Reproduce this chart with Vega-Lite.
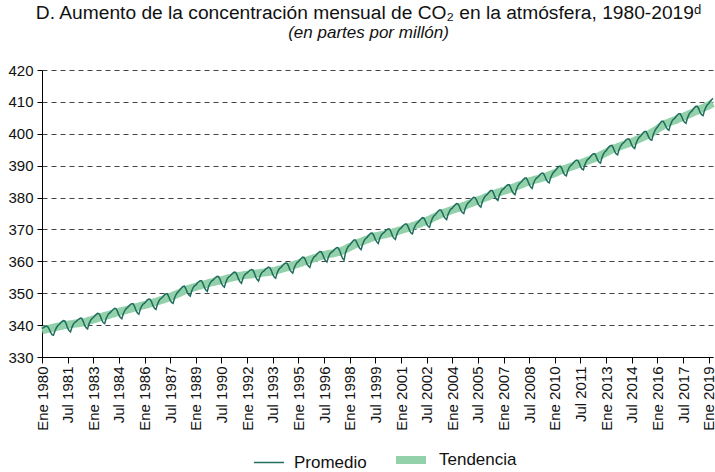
{
"$schema": "https://vega.github.io/schema/vega-lite/v6.json",
"width": 671,
"height": 287,
"autosize": {"type": "none"},
"padding": {"left": 42, "top": 70, "right": 2, "bottom": 115},
"background": "white",
"config": {
  "font": "Liberation Sans",
  "view": {"stroke": null}
},
"title": {"text": "D. Aumento de la concentración mensual de CO₂ en la atmósfera, 1980-2019ᵈ", "subtitle": "(en partes por millón)", "fontSize": 19.2, "fontWeight": "normal", "subtitleFontSize": 17, "subtitleFontStyle": "italic", "color": "#111", "subtitleColor": "#111", "anchor": "middle", "frame": "bounds", "offset": 22, "subtitlePadding": 2},
"data": {"format": {"parse": {"d": "utc:'%Y-%m'"}}, "values": [
{"d":"1980-01","p":338.9,"t":338.4},{"d":"1980-02","p":339.2,"t":338.5},{"d":"1980-03","p":339.5,"t":338.6},{"d":"1980-04","p":339.7,"t":338.7},{"d":"1980-05","p":339.5,"t":338.8},{"d":"1980-06","p":338.8,"t":338.9},{"d":"1980-07","p":337.8,"t":339.0},{"d":"1980-08","p":337.0,"t":339.1},{"d":"1980-09","p":336.8,"t":339.2},{"d":"1980-10","p":338.1,"t":339.3},{"d":"1980-11","p":339.1,"t":339.4},{"d":"1980-12","p":339.8,"t":339.5},
{"d":"1981-01","p":340.2,"t":339.6},{"d":"1981-02","p":340.7,"t":339.7},{"d":"1981-03","p":341.1,"t":339.8},{"d":"1981-04","p":341.4,"t":339.9},{"d":"1981-05","p":341.3,"t":340.0},{"d":"1981-06","p":340.4,"t":340.1},{"d":"1981-07","p":339.1,"t":340.1},{"d":"1981-08","p":338.3,"t":340.2},{"d":"1981-09","p":337.9,"t":340.3},{"d":"1981-10","p":339.3,"t":340.3},{"d":"1981-11","p":340.3,"t":340.4},{"d":"1981-12","p":340.9,"t":340.5},
{"d":"1982-01","p":341.1,"t":340.5},{"d":"1982-02","p":341.6,"t":340.6},{"d":"1982-03","p":341.9,"t":340.6},{"d":"1982-04","p":342.2,"t":340.7},{"d":"1982-05","p":342.1,"t":340.8},{"d":"1982-06","p":341.1,"t":340.8},{"d":"1982-07","p":339.9,"t":340.9},{"d":"1982-08","p":339.2,"t":341.1},{"d":"1982-09","p":338.8,"t":341.2},{"d":"1982-10","p":340.4,"t":341.4},{"d":"1982-11","p":341.4,"t":341.5},{"d":"1982-12","p":342.0,"t":341.6},
{"d":"1983-01","p":342.4,"t":341.8},{"d":"1983-02","p":342.9,"t":341.9},{"d":"1983-03","p":343.3,"t":342.0},{"d":"1983-04","p":343.7,"t":342.2},{"d":"1983-05","p":343.6,"t":342.3},{"d":"1983-06","p":342.8,"t":342.5},{"d":"1983-07","p":341.6,"t":342.6},{"d":"1983-08","p":340.8,"t":342.7},{"d":"1983-09","p":340.5,"t":342.9},{"d":"1983-10","p":342.0,"t":343.0},{"d":"1983-11","p":343.0,"t":343.1},{"d":"1983-12","p":343.6,"t":343.2},
{"d":"1984-01","p":344.0,"t":343.4},{"d":"1984-02","p":344.5,"t":343.5},{"d":"1984-03","p":344.9,"t":343.6},{"d":"1984-04","p":345.3,"t":343.8},{"d":"1984-05","p":345.2,"t":343.9},{"d":"1984-06","p":344.3,"t":344.0},{"d":"1984-07","p":343.1,"t":344.1},{"d":"1984-08","p":342.4,"t":344.3},{"d":"1984-09","p":342.0,"t":344.4},{"d":"1984-10","p":343.5,"t":344.5},{"d":"1984-11","p":344.5,"t":344.6},{"d":"1984-12","p":345.1,"t":344.7},
{"d":"1985-01","p":345.5,"t":344.9},{"d":"1985-02","p":346.0,"t":345.0},{"d":"1985-03","p":346.4,"t":345.1},{"d":"1985-04","p":346.7,"t":345.2},{"d":"1985-05","p":346.7,"t":345.4},{"d":"1985-06","p":345.8,"t":345.5},{"d":"1985-07","p":344.6,"t":345.6},{"d":"1985-08","p":343.8,"t":345.7},{"d":"1985-09","p":343.4,"t":345.8},{"d":"1985-10","p":345.0,"t":346.0},{"d":"1985-11","p":346.0,"t":346.1},{"d":"1985-12","p":346.6,"t":346.2},
{"d":"1986-01","p":346.9,"t":346.3},{"d":"1986-02","p":347.4,"t":346.4},{"d":"1986-03","p":347.9,"t":346.5},{"d":"1986-04","p":348.2,"t":346.7},{"d":"1986-05","p":348.1,"t":346.8},{"d":"1986-06","p":347.2,"t":346.9},{"d":"1986-07","p":346.0,"t":347.0},{"d":"1986-08","p":345.3,"t":347.2},{"d":"1986-09","p":344.9,"t":347.3},{"d":"1986-10","p":346.5,"t":347.5},{"d":"1986-11","p":347.5,"t":347.6},{"d":"1986-12","p":348.2,"t":347.8},
{"d":"1987-01","p":348.5,"t":347.9},{"d":"1987-02","p":349.0,"t":348.0},{"d":"1987-03","p":349.5,"t":348.2},{"d":"1987-04","p":349.8,"t":348.3},{"d":"1987-05","p":349.8,"t":348.5},{"d":"1987-06","p":348.9,"t":348.6},{"d":"1987-07","p":347.8,"t":348.8},{"d":"1987-08","p":347.1,"t":349.0},{"d":"1987-09","p":346.8,"t":349.2},{"d":"1987-10","p":348.4,"t":349.4},{"d":"1987-11","p":349.5,"t":349.6},{"d":"1987-12","p":350.2,"t":349.8},
{"d":"1988-01","p":350.6,"t":350.0},{"d":"1988-02","p":351.2,"t":350.2},{"d":"1988-03","p":351.7,"t":350.4},{"d":"1988-04","p":352.1,"t":350.6},{"d":"1988-05","p":352.2,"t":350.9},{"d":"1988-06","p":351.4,"t":351.1},{"d":"1988-07","p":350.2,"t":351.2},{"d":"1988-08","p":349.5,"t":351.4},{"d":"1988-09","p":349.1,"t":351.5},{"d":"1988-10","p":350.6,"t":351.6},{"d":"1988-11","p":351.7,"t":351.8},{"d":"1988-12","p":352.3,"t":351.9},
{"d":"1989-01","p":352.6,"t":352.0},{"d":"1989-02","p":353.2,"t":352.2},{"d":"1989-03","p":353.6,"t":352.3},{"d":"1989-04","p":353.9,"t":352.4},{"d":"1989-05","p":353.9,"t":352.6},{"d":"1989-06","p":353.0,"t":352.7},{"d":"1989-07","p":351.8,"t":352.8},{"d":"1989-08","p":351.0,"t":352.9},{"d":"1989-09","p":350.6,"t":353.0},{"d":"1989-10","p":352.2,"t":353.2},{"d":"1989-11","p":353.2,"t":353.3},{"d":"1989-12","p":353.8,"t":353.4},
{"d":"1990-01","p":354.1,"t":353.5},{"d":"1990-02","p":354.6,"t":353.6},{"d":"1990-03","p":355.0,"t":353.7},{"d":"1990-04","p":355.3,"t":353.8},{"d":"1990-05","p":355.2,"t":353.9},{"d":"1990-06","p":354.3,"t":354.0},{"d":"1990-07","p":353.1,"t":354.1},{"d":"1990-08","p":352.3,"t":354.2},{"d":"1990-09","p":351.9,"t":354.3},{"d":"1990-10","p":353.4,"t":354.4},{"d":"1990-11","p":354.5,"t":354.6},{"d":"1990-12","p":355.1,"t":354.7},
{"d":"1991-01","p":355.4,"t":354.8},{"d":"1991-02","p":355.9,"t":354.9},{"d":"1991-03","p":356.3,"t":355.0},{"d":"1991-04","p":356.6,"t":355.1},{"d":"1991-05","p":356.5,"t":355.2},{"d":"1991-06","p":355.6,"t":355.3},{"d":"1991-07","p":354.4,"t":355.4},{"d":"1991-08","p":353.6,"t":355.5},{"d":"1991-09","p":353.1,"t":355.5},{"d":"1991-10","p":354.6,"t":355.6},{"d":"1991-11","p":355.6,"t":355.7},{"d":"1991-12","p":356.1,"t":355.7},
{"d":"1992-01","p":356.4,"t":355.8},{"d":"1992-02","p":356.8,"t":355.8},{"d":"1992-03","p":357.2,"t":355.9},{"d":"1992-04","p":357.4,"t":355.9},{"d":"1992-05","p":357.3,"t":356.0},{"d":"1992-06","p":356.4,"t":356.1},{"d":"1992-07","p":355.1,"t":356.1},{"d":"1992-08","p":354.3,"t":356.2},{"d":"1992-09","p":353.8,"t":356.2},{"d":"1992-10","p":355.3,"t":356.3},{"d":"1992-11","p":356.3,"t":356.4},{"d":"1992-12","p":356.8,"t":356.4},
{"d":"1993-01","p":357.1,"t":356.5},{"d":"1993-02","p":357.6,"t":356.6},{"d":"1993-03","p":357.9,"t":356.6},{"d":"1993-04","p":358.2,"t":356.7},{"d":"1993-05","p":358.0,"t":356.7},{"d":"1993-06","p":357.1,"t":356.8},{"d":"1993-07","p":355.9,"t":356.9},{"d":"1993-08","p":355.1,"t":357.0},{"d":"1993-09","p":354.7,"t":357.1},{"d":"1993-10","p":356.3,"t":357.3},{"d":"1993-11","p":357.3,"t":357.4},{"d":"1993-12","p":357.9,"t":357.5},
{"d":"1994-01","p":358.2,"t":357.6},{"d":"1994-02","p":358.8,"t":357.8},{"d":"1994-03","p":359.2,"t":357.9},{"d":"1994-04","p":359.5,"t":358.0},{"d":"1994-05","p":359.4,"t":358.1},{"d":"1994-06","p":358.6,"t":358.3},{"d":"1994-07","p":357.4,"t":358.4},{"d":"1994-08","p":356.7,"t":358.6},{"d":"1994-09","p":356.3,"t":358.7},{"d":"1994-10","p":357.9,"t":358.9},{"d":"1994-11","p":358.9,"t":359.0},{"d":"1994-12","p":359.6,"t":359.2},
{"d":"1995-01","p":359.9,"t":359.3},{"d":"1995-02","p":360.5,"t":359.5},{"d":"1995-03","p":360.9,"t":359.6},{"d":"1995-04","p":361.3,"t":359.8},{"d":"1995-05","p":361.2,"t":359.9},{"d":"1995-06","p":360.4,"t":360.1},{"d":"1995-07","p":359.2,"t":360.2},{"d":"1995-08","p":358.5,"t":360.4},{"d":"1995-09","p":358.1,"t":360.5},{"d":"1995-10","p":359.7,"t":360.7},{"d":"1995-11","p":360.7,"t":360.8},{"d":"1995-12","p":361.4,"t":361.0},
{"d":"1996-01","p":361.7,"t":361.1},{"d":"1996-02","p":362.3,"t":361.3},{"d":"1996-03","p":362.7,"t":361.4},{"d":"1996-04","p":363.1,"t":361.6},{"d":"1996-05","p":363.0,"t":361.7},{"d":"1996-06","p":362.2,"t":361.9},{"d":"1996-07","p":361.0,"t":362.0},{"d":"1996-08","p":360.2,"t":362.1},{"d":"1996-09","p":359.8,"t":362.2},{"d":"1996-10","p":361.3,"t":362.3},{"d":"1996-11","p":362.3,"t":362.4},{"d":"1996-12","p":362.8,"t":362.4},
{"d":"1997-01","p":363.1,"t":362.5},{"d":"1997-02","p":363.6,"t":362.6},{"d":"1997-03","p":364.0,"t":362.7},{"d":"1997-04","p":364.3,"t":362.8},{"d":"1997-05","p":364.2,"t":362.9},{"d":"1997-06","p":363.3,"t":363.0},{"d":"1997-07","p":362.0,"t":363.2},{"d":"1997-08","p":360.9,"t":363.4},{"d":"1997-09","p":360.4,"t":363.6},{"d":"1997-10","p":362.6,"t":363.8},{"d":"1997-11","p":363.9,"t":364.0},{"d":"1997-12","p":364.7,"t":364.3},
{"d":"1998-01","p":365.1,"t":364.5},{"d":"1998-02","p":365.7,"t":364.7},{"d":"1998-03","p":366.2,"t":364.9},{"d":"1998-04","p":366.7,"t":365.1},{"d":"1998-05","p":366.7,"t":365.4},{"d":"1998-06","p":365.9,"t":365.6},{"d":"1998-07","p":364.8,"t":365.8},{"d":"1998-08","p":364.1,"t":366.0},{"d":"1998-09","p":363.7,"t":366.1},{"d":"1998-10","p":365.3,"t":366.3},{"d":"1998-11","p":366.4,"t":366.5},{"d":"1998-12","p":367.1,"t":366.7},
{"d":"1999-01","p":367.4,"t":366.8},{"d":"1999-02","p":368.0,"t":367.0},{"d":"1999-03","p":368.5,"t":367.2},{"d":"1999-04","p":368.9,"t":367.4},{"d":"1999-05","p":368.8,"t":367.5},{"d":"1999-06","p":368.0,"t":367.7},{"d":"1999-07","p":366.9,"t":367.9},{"d":"1999-08","p":366.1,"t":367.9},{"d":"1999-09","p":365.6,"t":368.0},{"d":"1999-10","p":367.1,"t":368.1},{"d":"1999-11","p":368.1,"t":368.2},{"d":"1999-12","p":368.7,"t":368.3},
{"d":"2000-01","p":369.0,"t":368.4},{"d":"2000-02","p":369.5,"t":368.5},{"d":"2000-03","p":369.9,"t":368.6},{"d":"2000-04","p":370.2,"t":368.7},{"d":"2000-05","p":370.1,"t":368.8},{"d":"2000-06","p":369.2,"t":368.9},{"d":"2000-07","p":368.0,"t":369.0},{"d":"2000-08","p":367.3,"t":369.2},{"d":"2000-09","p":366.9,"t":369.3},{"d":"2000-10","p":368.4,"t":369.4},{"d":"2000-11","p":369.5,"t":369.6},{"d":"2000-12","p":370.1,"t":369.7},
{"d":"2001-01","p":370.4,"t":369.8},{"d":"2001-02","p":371.0,"t":370.0},{"d":"2001-03","p":371.4,"t":370.1},{"d":"2001-04","p":371.7,"t":370.2},{"d":"2001-05","p":371.7,"t":370.4},{"d":"2001-06","p":370.8,"t":370.5},{"d":"2001-07","p":369.7,"t":370.7},{"d":"2001-08","p":368.9,"t":370.8},{"d":"2001-09","p":368.6,"t":371.0},{"d":"2001-10","p":370.2,"t":371.2},{"d":"2001-11","p":371.2,"t":371.3},{"d":"2001-12","p":371.9,"t":371.5},
{"d":"2002-01","p":372.3,"t":371.7},{"d":"2002-02","p":372.8,"t":371.8},{"d":"2002-03","p":373.3,"t":372.0},{"d":"2002-04","p":373.7,"t":372.2},{"d":"2002-05","p":373.6,"t":372.3},{"d":"2002-06","p":372.8,"t":372.5},{"d":"2002-07","p":371.7,"t":372.7},{"d":"2002-08","p":371.0,"t":372.9},{"d":"2002-09","p":370.7,"t":373.1},{"d":"2002-10","p":372.3,"t":373.3},{"d":"2002-11","p":373.5,"t":373.6},{"d":"2002-12","p":374.2,"t":373.8},
{"d":"2003-01","p":374.6,"t":374.0},{"d":"2003-02","p":375.2,"t":374.2},{"d":"2003-03","p":375.7,"t":374.4},{"d":"2003-04","p":376.1,"t":374.6},{"d":"2003-05","p":376.1,"t":374.8},{"d":"2003-06","p":375.3,"t":375.0},{"d":"2003-07","p":374.2,"t":375.2},{"d":"2003-08","p":373.5,"t":375.4},{"d":"2003-09","p":373.1,"t":375.5},{"d":"2003-10","p":374.7,"t":375.7},{"d":"2003-11","p":375.7,"t":375.8},{"d":"2003-12","p":376.4,"t":376.0},
{"d":"2004-01","p":376.7,"t":376.1},{"d":"2004-02","p":377.3,"t":376.3},{"d":"2004-03","p":377.7,"t":376.4},{"d":"2004-04","p":378.1,"t":376.6},{"d":"2004-05","p":378.0,"t":376.7},{"d":"2004-06","p":377.2,"t":376.9},{"d":"2004-07","p":376.0,"t":377.0},{"d":"2004-08","p":375.3,"t":377.2},{"d":"2004-09","p":375.0,"t":377.4},{"d":"2004-10","p":376.5,"t":377.5},{"d":"2004-11","p":377.6,"t":377.7},{"d":"2004-12","p":378.3,"t":377.9},
{"d":"2005-01","p":378.7,"t":378.1},{"d":"2005-02","p":379.2,"t":378.2},{"d":"2005-03","p":379.7,"t":378.4},{"d":"2005-04","p":380.1,"t":378.6},{"d":"2005-05","p":380.0,"t":378.7},{"d":"2005-06","p":379.2,"t":378.9},{"d":"2005-07","p":378.1,"t":379.1},{"d":"2005-08","p":377.4,"t":379.3},{"d":"2005-09","p":377.0,"t":379.4},{"d":"2005-10","p":378.6,"t":379.6},{"d":"2005-11","p":379.7,"t":379.8},{"d":"2005-12","p":380.4,"t":380.0},
{"d":"2006-01","p":380.8,"t":380.2},{"d":"2006-02","p":381.3,"t":380.3},{"d":"2006-03","p":381.8,"t":380.5},{"d":"2006-04","p":382.2,"t":380.7},{"d":"2006-05","p":382.2,"t":380.9},{"d":"2006-06","p":381.4,"t":381.1},{"d":"2006-07","p":380.2,"t":381.2},{"d":"2006-08","p":379.5,"t":381.4},{"d":"2006-09","p":379.1,"t":381.5},{"d":"2006-10","p":380.7,"t":381.7},{"d":"2006-11","p":381.7,"t":381.8},{"d":"2006-12","p":382.4,"t":382.0},
{"d":"2007-01","p":382.7,"t":382.1},{"d":"2007-02","p":383.2,"t":382.2},{"d":"2007-03","p":383.7,"t":382.4},{"d":"2007-04","p":384.0,"t":382.5},{"d":"2007-05","p":384.0,"t":382.7},{"d":"2007-06","p":383.1,"t":382.8},{"d":"2007-07","p":382.0,"t":383.0},{"d":"2007-08","p":381.3,"t":383.2},{"d":"2007-09","p":380.9,"t":383.3},{"d":"2007-10","p":382.5,"t":383.5},{"d":"2007-11","p":383.6,"t":383.7},{"d":"2007-12","p":384.3,"t":383.9},
{"d":"2008-01","p":384.7,"t":384.0},{"d":"2008-02","p":385.2,"t":384.2},{"d":"2008-03","p":385.7,"t":384.4},{"d":"2008-04","p":386.1,"t":384.6},{"d":"2008-05","p":386.1,"t":384.8},{"d":"2008-06","p":385.2,"t":384.9},{"d":"2008-07","p":384.1,"t":385.1},{"d":"2008-08","p":383.3,"t":385.2},{"d":"2008-09","p":382.9,"t":385.3},{"d":"2008-10","p":384.5,"t":385.5},{"d":"2008-11","p":385.5,"t":385.6},{"d":"2008-12","p":386.1,"t":385.7},
{"d":"2009-01","p":386.4,"t":385.8},{"d":"2009-02","p":386.9,"t":385.9},{"d":"2009-03","p":387.4,"t":386.1},{"d":"2009-04","p":387.7,"t":386.2},{"d":"2009-05","p":387.6,"t":386.3},{"d":"2009-06","p":386.7,"t":386.4},{"d":"2009-07","p":385.6,"t":386.6},{"d":"2009-08","p":384.9,"t":386.8},{"d":"2009-09","p":384.6,"t":387.0},{"d":"2009-10","p":386.2,"t":387.2},{"d":"2009-11","p":387.2,"t":387.3},{"d":"2009-12","p":387.9,"t":387.5},
{"d":"2010-01","p":388.3,"t":387.7},{"d":"2010-02","p":388.9,"t":387.9},{"d":"2010-03","p":389.4,"t":388.1},{"d":"2010-04","p":389.8,"t":388.3},{"d":"2010-05","p":389.8,"t":388.5},{"d":"2010-06","p":389.0,"t":388.7},{"d":"2010-07","p":387.8,"t":388.8},{"d":"2010-08","p":387.1,"t":389.0},{"d":"2010-09","p":386.8,"t":389.1},{"d":"2010-10","p":388.3,"t":389.3},{"d":"2010-11","p":389.4,"t":389.5},{"d":"2010-12","p":390.0,"t":389.6},
{"d":"2011-01","p":390.4,"t":389.8},{"d":"2011-02","p":390.9,"t":389.9},{"d":"2011-03","p":391.4,"t":390.1},{"d":"2011-04","p":391.7,"t":390.2},{"d":"2011-05","p":391.7,"t":390.4},{"d":"2011-06","p":390.9,"t":390.6},{"d":"2011-07","p":389.7,"t":390.7},{"d":"2011-08","p":389.0,"t":390.9},{"d":"2011-09","p":388.7,"t":391.1},{"d":"2011-10","p":390.2,"t":391.2},{"d":"2011-11","p":391.3,"t":391.4},{"d":"2011-12","p":392.0,"t":391.6},
{"d":"2012-01","p":392.3,"t":391.7},{"d":"2012-02","p":392.9,"t":391.9},{"d":"2012-03","p":393.4,"t":392.1},{"d":"2012-04","p":393.7,"t":392.2},{"d":"2012-05","p":393.7,"t":392.4},{"d":"2012-06","p":392.9,"t":392.6},{"d":"2012-07","p":391.8,"t":392.8},{"d":"2012-08","p":391.1,"t":393.0},{"d":"2012-09","p":390.8,"t":393.2},{"d":"2012-10","p":392.5,"t":393.5},{"d":"2012-11","p":393.6,"t":393.7},{"d":"2012-12","p":394.3,"t":393.9},
{"d":"2013-01","p":394.7,"t":394.1},{"d":"2013-02","p":395.4,"t":394.4},{"d":"2013-03","p":395.9,"t":394.6},{"d":"2013-04","p":396.3,"t":394.8},{"d":"2013-05","p":396.4,"t":395.1},{"d":"2013-06","p":395.6,"t":395.3},{"d":"2013-07","p":394.5,"t":395.5},{"d":"2013-08","p":393.7,"t":395.6},{"d":"2013-09","p":393.4,"t":395.8},{"d":"2013-10","p":395.0,"t":396.0},{"d":"2013-11","p":396.0,"t":396.1},{"d":"2013-12","p":396.7,"t":396.3},
{"d":"2014-01","p":397.1,"t":396.5},{"d":"2014-02","p":397.6,"t":396.6},{"d":"2014-03","p":398.1,"t":396.8},{"d":"2014-04","p":398.4,"t":396.9},{"d":"2014-05","p":398.4,"t":397.1},{"d":"2014-06","p":397.6,"t":397.3},{"d":"2014-07","p":396.4,"t":397.4},{"d":"2014-08","p":395.7,"t":397.6},{"d":"2014-09","p":395.4,"t":397.8},{"d":"2014-10","p":397.0,"t":398.0},{"d":"2014-11","p":398.1,"t":398.2},{"d":"2014-12","p":398.8,"t":398.4},
{"d":"2015-01","p":399.2,"t":398.6},{"d":"2015-02","p":399.8,"t":398.8},{"d":"2015-03","p":400.3,"t":399.0},{"d":"2015-04","p":400.7,"t":399.2},{"d":"2015-05","p":400.7,"t":399.4},{"d":"2015-06","p":399.9,"t":399.6},{"d":"2015-07","p":398.8,"t":399.8},{"d":"2015-08","p":398.2,"t":400.1},{"d":"2015-09","p":398.0,"t":400.4},{"d":"2015-10","p":399.6,"t":400.6},{"d":"2015-11","p":400.8,"t":400.9},{"d":"2015-12","p":401.6,"t":401.2},
{"d":"2016-01","p":402.1,"t":401.5},{"d":"2016-02","p":402.8,"t":401.8},{"d":"2016-03","p":403.4,"t":402.1},{"d":"2016-04","p":403.9,"t":402.3},{"d":"2016-05","p":403.9,"t":402.6},{"d":"2016-06","p":403.2,"t":402.9},{"d":"2016-07","p":402.2,"t":403.2},{"d":"2016-08","p":401.4,"t":403.3},{"d":"2016-09","p":401.1,"t":403.5},{"d":"2016-10","p":402.7,"t":403.7},{"d":"2016-11","p":403.8,"t":403.9},{"d":"2016-12","p":404.5,"t":404.1},
{"d":"2017-01","p":404.8,"t":404.2},{"d":"2017-02","p":405.4,"t":404.4},{"d":"2017-03","p":405.9,"t":404.6},{"d":"2017-04","p":406.3,"t":404.8},{"d":"2017-05","p":406.3,"t":405.0},{"d":"2017-06","p":405.4,"t":405.1},{"d":"2017-07","p":404.3,"t":405.3},{"d":"2017-08","p":403.6,"t":405.5},{"d":"2017-09","p":403.3,"t":405.7},{"d":"2017-10","p":404.9,"t":405.9},{"d":"2017-11","p":406.0,"t":406.1},{"d":"2017-12","p":406.7,"t":406.3},
{"d":"2018-01","p":407.1,"t":406.5},{"d":"2018-02","p":407.7,"t":406.7},{"d":"2018-03","p":408.2,"t":406.9},{"d":"2018-04","p":408.6,"t":407.1},{"d":"2018-05","p":408.6,"t":407.3},{"d":"2018-06","p":407.8,"t":407.5},{"d":"2018-07","p":406.7,"t":407.7},{"d":"2018-08","p":406.0,"t":407.9},{"d":"2018-09","p":405.7,"t":408.1},{"d":"2018-10","p":407.3,"t":408.3},{"d":"2018-11","p":408.4,"t":408.5},{"d":"2018-12","p":409.1,"t":408.7},
{"d":"2019-01","p":409.5,"t":408.9},{"d":"2019-02","p":410.2,"t":409.2},{"d":"2019-03","p":410.7,"t":409.4},{"d":"2019-04","p":411.1,"t":409.6}
]},
"transform": [{"fold": ["p", "t"], "as": ["serie", "valor"]}],
"encoding": {
  "x": {"field": "d", "type": "temporal", "scale": {"type": "utc", "nice": false, "padding": 0},
    "axis": {"title": null, "grid": false, "labelAngle": -90, "labelFontSize": 15, "labelColor": "#111", "tickSize": 6, "tickColor": "#000", "domainColor": "#000", "labelPadding": 3, "labelOverlap": false, "labelFlush": false, "labelBound": false,
      "labelExpr": "(utcmonth(datum.value) == 0 ? 'Ene ' : 'Jul ') + utcyear(datum.value)",
      "values": [
        {"year": 1980, "month": 1, "utc": true}, {"year": 1981, "month": 7, "utc": true},
        {"year": 1983, "month": 1, "utc": true}, {"year": 1984, "month": 7, "utc": true},
        {"year": 1986, "month": 1, "utc": true}, {"year": 1987, "month": 7, "utc": true},
        {"year": 1989, "month": 1, "utc": true}, {"year": 1990, "month": 7, "utc": true},
        {"year": 1992, "month": 1, "utc": true}, {"year": 1993, "month": 7, "utc": true},
        {"year": 1995, "month": 1, "utc": true}, {"year": 1996, "month": 7, "utc": true},
        {"year": 1998, "month": 1, "utc": true}, {"year": 1999, "month": 7, "utc": true},
        {"year": 2001, "month": 1, "utc": true}, {"year": 2002, "month": 7, "utc": true},
        {"year": 2004, "month": 1, "utc": true}, {"year": 2005, "month": 7, "utc": true},
        {"year": 2007, "month": 1, "utc": true}, {"year": 2008, "month": 7, "utc": true},
        {"year": 2010, "month": 1, "utc": true}, {"year": 2011, "month": 7, "utc": true},
        {"year": 2013, "month": 1, "utc": true}, {"year": 2014, "month": 7, "utc": true},
        {"year": 2016, "month": 1, "utc": true}, {"year": 2017, "month": 7, "utc": true},
        {"year": 2019, "month": 1, "utc": true}
      ]}},
  "y": {"field": "valor", "type": "quantitative", "scale": {"domain": [330, 420], "nice": false, "zero": false},
    "axis": {"title": null, "values": [330, 340, 350, 360, 370, 380, 390, 400, 410, 420], "grid": true, "gridDash": [5, 4], "gridColor": "#444", "gridWidth": 1, "labelFontSize": 15, "labelColor": "#111", "tickSize": 5, "tickColor": "#000", "domainColor": "#000", "labelPadding": 4}},
  "color": {"field": "serie", "type": "nominal", "scale": {"domain": ["p", "t"], "range": ["#1f6e5c", "#93d1ab"]},
    "legend": {"title": null, "orient": "none", "legendX": 211, "legendY": 371, "direction": "horizontal", "labelExpr": "datum.label == 'p' ? 'Promedio' : 'Tendencia'", "labelFontSize": 17, "labelColor": "#111", "symbolType": "stroke", "symbolSize": 900, "columnPadding": 13, "labelOffset": 9}},
  "strokeWidth": {"field": "serie", "type": "nominal", "scale": {"domain": ["p", "t"], "range": [1.5, 8]},
    "legend": {"title": null, "orient": "none", "legendX": 211, "legendY": 371, "direction": "horizontal", "labelExpr": "datum.label == 'p' ? 'Promedio' : 'Tendencia'", "labelFontSize": 17, "labelColor": "#111", "symbolType": "stroke", "symbolSize": 900, "columnPadding": 13, "labelOffset": 9}}
},
"layer": [
  {"transform": [{"filter": "datum.serie == 't'"}], "mark": {"type": "line", "strokeCap": "butt"}},
  {"transform": [{"filter": "datum.serie == 'p'"}], "mark": {"type": "line"}}
]
}
